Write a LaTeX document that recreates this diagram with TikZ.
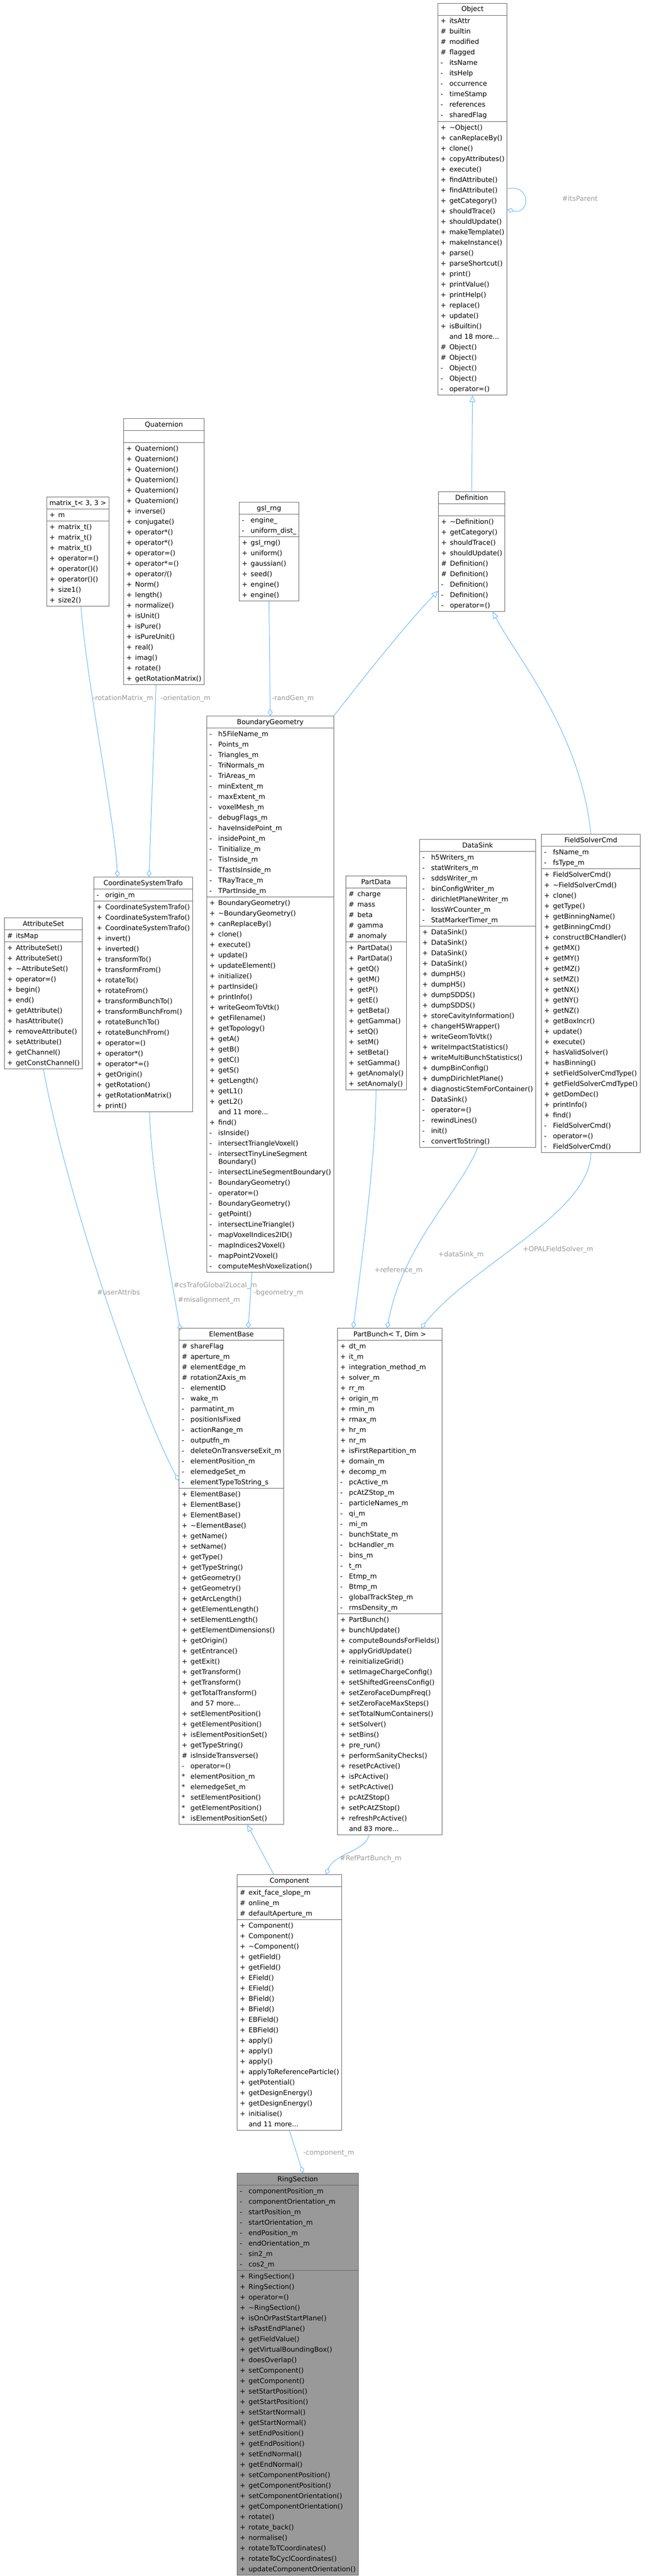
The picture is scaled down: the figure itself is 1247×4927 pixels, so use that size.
\documentclass[tikz,border=0pt]{standalone}
\usepackage{fontspec}
\setmainfont{DejaVu Sans}
\usetikzlibrary{arrows.meta,positioning,shapes.multipart}
\definecolor{edgeblue}{HTML}{63B8FF}
\definecolor{lblgray}{HTML}{9A9A9A}
\definecolor{boxline}{HTML}{666666}
\definecolor{hlfill}{HTML}{999999}
\newcommand{\clsfont}{\fontsize{13}{20}\selectfont}
\newcommand{\mbr}[2]{\makebox[17pt][l]{#1}#2}
\newcommand{\mlist}[1]{\begin{tabular}{@{}l@{}}#1\end{tabular}}

\begin{document}
\begin{tikzpicture}[x=1pt, y=-1pt,
    cls/.style={rectangle split, rectangle split parts=3,
      rectangle split part align={center,left,left},
      draw=boxline, line width=1pt, fill=white, inner xsep=5pt, inner ysep=1pt,
      anchor=north west, font=\clsfont},
    ringcls/.style={cls, fill=hlfill},
    aggr/.style={draw=edgeblue, line width=1pt, {Diamond[open, length=13pt, width=9pt]}-},
    inherit/.style={draw=edgeblue, line width=1pt, -{Triangle[open, length=13pt, width=11pt]}},
    elabel/.style={text=lblgray, font=\clsfont, inner sep=0pt, anchor=west}
  ]
  \fill[white] (0,0) rectangle (1247,4927);
  \useasboundingbox (0,0) rectangle (1247,4927);

  % Object and Definition
  \node[cls] (obj) at (837,6) {\strut Object
    \nodepart{second}\mlist{\mbr{+}{itsAttr}\\ \mbr{\#}{builtin}\\ \mbr{\#}{modified}\\ \mbr{\#}{flagged}\\
      \mbr{-}{itsName}\\ \mbr{-}{itsHelp}\\ \mbr{-}{occurrence}\\ \mbr{-}{timeStamp}\\ \mbr{-}{references}\\ \mbr{-}{sharedFlag}}
    \nodepart{third}\mlist{\mbr{+}{\textasciitilde Object()}\\ \mbr{+}{canReplaceBy()}\\ \mbr{+}{clone()}\\ \mbr{+}{copyAttributes()}\\
      \mbr{+}{execute()}\\ \mbr{+}{findAttribute()}\\ \mbr{+}{findAttribute()}\\ \mbr{+}{getCategory()}\\ \mbr{+}{shouldTrace()}\\
      \mbr{+}{shouldUpdate()}\\ \mbr{+}{makeTemplate()}\\ \mbr{+}{makeInstance()}\\ \mbr{+}{parse()}\\ \mbr{+}{parseShortcut()}\\
      \mbr{+}{print()}\\ \mbr{+}{printValue()}\\ \mbr{+}{printHelp()}\\ \mbr{+}{replace()}\\ \mbr{+}{update()}\\ \mbr{+}{isBuiltin()}\\
      \mbr{}{and 18 more...}\\ \mbr{\#}{Object()}\\ \mbr{\#}{Object()}\\ \mbr{-}{Object()}\\ \mbr{-}{Object()}\\ \mbr{-}{operator=()}}};
  \node[cls] (def) at (838,940) {\strut Definition
    \nodepart{second}\mlist{\mbox{}}
    \nodepart{third}\mlist{\mbr{+}{\textasciitilde Definition()}\\ \mbr{+}{getCategory()}\\ \mbr{+}{shouldTrace()}\\ \mbr{+}{shouldUpdate()}\\
      \mbr{\#}{Definition()}\\ \mbr{\#}{Definition()}\\ \mbr{-}{Definition()}\\ \mbr{-}{Definition()}\\ \mbr{-}{operator=()}}};

  % helpers
  \node[cls] (quat) at (236,800) {\strut Quaternion
    \nodepart{second}\mlist{\mbox{}}
    \nodepart{third}\mlist{\mbr{+}{Quaternion()}\\ \mbr{+}{Quaternion()}\\ \mbr{+}{Quaternion()}\\ \mbr{+}{Quaternion()}\\
      \mbr{+}{Quaternion()}\\ \mbr{+}{Quaternion()}\\ \mbr{+}{inverse()}\\ \mbr{+}{conjugate()}\\ \mbr{+}{operator*()}\\
      \mbr{+}{operator*()}\\ \mbr{+}{operator=()}\\ \mbr{+}{operator*=()}\\ \mbr{+}{operator/()}\\ \mbr{+}{Norm()}\\
      \mbr{+}{length()}\\ \mbr{+}{normalize()}\\ \mbr{+}{isUnit()}\\ \mbr{+}{isPure()}\\ \mbr{+}{isPureUnit()}\\
      \mbr{+}{real()}\\ \mbr{+}{imag()}\\ \mbr{+}{rotate()}\\ \mbr{+}{getRotationMatrix()}}};
  \node[cls] (mtx) at (89,950) {\strut matrix\_t< 3, 3 >
    \nodepart{second}\mlist{\mbr{+}{m}}
    \nodepart{third}\mlist{\mbr{+}{matrix\_t()}\\ \mbr{+}{matrix\_t()}\\ \mbr{+}{matrix\_t()}\\ \mbr{+}{operator=()}\\
      \mbr{+}{operator()()}\\ \mbr{+}{operator()()}\\ \mbr{+}{size1()}\\ \mbr{+}{size2()}}};
  \node[cls] (rng) at (457,960) {\strut gsl\_rng
    \nodepart{second}\mlist{\mbr{-}{engine\_}\\ \mbr{-}{uniform\_dist\_}}
    \nodepart{third}\mlist{\mbr{+}{gsl\_rng()}\\ \mbr{+}{uniform()}\\ \mbr{+}{gaussian()}\\ \mbr{+}{seed()}\\
      \mbr{+}{engine()}\\ \mbr{+}{engine()}}};

  % BoundaryGeometry
  \node[cls] (bg) at (395,1369) {\strut BoundaryGeometry
    \nodepart{second}\mlist{\mbr{-}{h5FileName\_m}\\ \mbr{-}{Points\_m}\\ \mbr{-}{Triangles\_m}\\ \mbr{-}{TriNormals\_m}\\
      \mbr{-}{TriAreas\_m}\\ \mbr{-}{minExtent\_m}\\ \mbr{-}{maxExtent\_m}\\ \mbr{-}{voxelMesh\_m}\\ \mbr{-}{debugFlags\_m}\\
      \mbr{-}{haveInsidePoint\_m}\\ \mbr{-}{insidePoint\_m}\\ \mbr{-}{Tinitialize\_m}\\ \mbr{-}{TisInside\_m}\\
      \mbr{-}{TfastIsInside\_m}\\ \mbr{-}{TRayTrace\_m}\\ \mbr{-}{TPartInside\_m}}
    \nodepart{third}\mlist{\mbr{+}{BoundaryGeometry()}\\ \mbr{+}{\textasciitilde BoundaryGeometry()}\\ \mbr{+}{canReplaceBy()}\\
      \mbr{+}{clone()}\\ \mbr{+}{execute()}\\ \mbr{+}{update()}\\ \mbr{+}{updateElement()}\\ \mbr{+}{initialize()}\\
      \mbr{+}{partInside()}\\ \mbr{+}{printInfo()}\\ \mbr{+}{writeGeomToVtk()}\\ \mbr{+}{getFilename()}\\ \mbr{+}{getTopology()}\\
      \mbr{+}{getA()}\\ \mbr{+}{getB()}\\ \mbr{+}{getC()}\\ \mbr{+}{getS()}\\ \mbr{+}{getLength()}\\ \mbr{+}{getL1()}\\
      \mbr{+}{getL2()}\\ \mbr{}{and 11 more...}\\ \mbr{+}{find()}\\ \mbr{-}{isInside()}\\ \mbr{-}{intersectTriangleVoxel()}\\
      \mbr{-}{intersectTinyLineSegment}\\[-5pt] \mbr{}{Boundary()}\\ \mbr{-}{intersectLineSegmentBoundary()}\\
      \mbr{-}{BoundaryGeometry()}\\ \mbr{-}{operator=()}\\ \mbr{-}{BoundaryGeometry()}\\ \mbr{-}{getPoint()}\\
      \mbr{-}{intersectLineTriangle()}\\ \mbr{-}{mapVoxelIndices2ID()}\\ \mbr{-}{mapIndices2Voxel()}\\
      \mbr{-}{mapPoint2Voxel()}\\ \mbr{-}{computeMeshVoxelization()}}};

  % second row of classes
  \node[cls] (attr) at (8,1755) {\strut AttributeSet
    \nodepart{second}\mlist{\mbr{\#}{itsMap}}
    \nodepart{third}\mlist{\mbr{+}{AttributeSet()}\\ \mbr{+}{AttributeSet()}\\ \mbr{+}{\textasciitilde AttributeSet()}\\
      \mbr{+}{operator=()}\\ \mbr{+}{begin()}\\ \mbr{+}{end()}\\ \mbr{+}{getAttribute()}\\ \mbr{+}{hasAttribute()}\\
      \mbr{+}{removeAttribute()}\\ \mbr{+}{setAttribute()}\\ \mbr{+}{getChannel()}\\ \mbr{+}{getConstChannel()}}};
  \node[cls] (cst) at (179,1677) {\strut CoordinateSystemTrafo
    \nodepart{second}\mlist{\mbr{-}{origin\_m}}
    \nodepart{third}\mlist{\mbr{+}{CoordinateSystemTrafo()}\\ \mbr{+}{CoordinateSystemTrafo()}\\ \mbr{+}{CoordinateSystemTrafo()}\\
      \mbr{+}{invert()}\\ \mbr{+}{inverted()}\\ \mbr{+}{transformTo()}\\ \mbr{+}{transformFrom()}\\ \mbr{+}{rotateTo()}\\
      \mbr{+}{rotateFrom()}\\ \mbr{+}{transformBunchTo()}\\ \mbr{+}{transformBunchFrom()}\\ \mbr{+}{rotateBunchTo()}\\
      \mbr{+}{rotateBunchFrom()}\\ \mbr{+}{operator=()}\\ \mbr{+}{operator*()}\\ \mbr{+}{operator*=()}\\ \mbr{+}{getOrigin()}\\
      \mbr{+}{getRotation()}\\ \mbr{+}{getRotationMatrix()}\\ \mbr{+}{print()}}};
  \node[cls] (pdata) at (661,1675) {\strut PartData
    \nodepart{second}\mlist{\mbr{\#}{charge}\\ \mbr{\#}{mass}\\ \mbr{\#}{beta}\\ \mbr{\#}{gamma}\\ \mbr{\#}{anomaly}}
    \nodepart{third}\mlist{\mbr{+}{PartData()}\\ \mbr{+}{PartData()}\\ \mbr{+}{getQ()}\\ \mbr{+}{getM()}\\ \mbr{+}{getP()}\\
      \mbr{+}{getE()}\\ \mbr{+}{getBeta()}\\ \mbr{+}{getGamma()}\\ \mbr{+}{setQ()}\\ \mbr{+}{setM()}\\ \mbr{+}{setBeta()}\\
      \mbr{+}{setGamma()}\\ \mbr{+}{getAnomaly()}\\ \mbr{+}{setAnomaly()}}};
  \node[cls] (sink) at (802,1605) {\strut DataSink
    \nodepart{second}\mlist{\mbr{-}{h5Writers\_m}\\ \mbr{-}{statWriters\_m}\\ \mbr{-}{sddsWriter\_m}\\ \mbr{-}{binConfigWriter\_m}\\
      \mbr{-}{dirichletPlaneWriter\_m}\\ \mbr{-}{lossWrCounter\_m}\\ \mbr{-}{StatMarkerTimer\_m}}
    \nodepart{third}\mlist{\mbr{+}{DataSink()}\\ \mbr{+}{DataSink()}\\ \mbr{+}{DataSink()}\\ \mbr{+}{DataSink()}\\
      \mbr{+}{dumpH5()}\\ \mbr{+}{dumpH5()}\\ \mbr{+}{dumpSDDS()}\\ \mbr{+}{dumpSDDS()}\\ \mbr{+}{storeCavityInformation()}\\
      \mbr{+}{changeH5Wrapper()}\\ \mbr{+}{writeGeomToVtk()}\\ \mbr{+}{writeImpactStatistics()}\\
      \mbr{+}{writeMultiBunchStatistics()}\\ \mbr{+}{dumpBinConfig()}\\
      \mbr{+}{dumpDirichletPlane()}\\ \mbr{+}{diagnosticStemForContainer()}\\ \mbr{-}{DataSink()}\\ \mbr{-}{operator=()}\\
      \mbr{-}{rewindLines()}\\ \mbr{-}{init()}\\ \mbr{-}{convertToString()}}};
  \node[cls] (fsc) at (1035,1595) {\strut FieldSolverCmd
    \nodepart{second}\mlist{\mbr{-}{fsName\_m}\\ \mbr{-}{fsType\_m}}
    \nodepart{third}\mlist{\mbr{+}{FieldSolverCmd()}\\ \mbr{+}{\textasciitilde FieldSolverCmd()}\\ \mbr{+}{clone()}\\
      \mbr{+}{getType()}\\ \mbr{+}{getBinningName()}\\ \mbr{+}{getBinningCmd()}\\ \mbr{+}{constructBCHandler()}\\
      \mbr{+}{getMX()}\\ \mbr{+}{getMY()}\\ \mbr{+}{getMZ()}\\ \mbr{+}{setMZ()}\\ \mbr{+}{getNX()}\\ \mbr{+}{getNY()}\\
      \mbr{+}{getNZ()}\\ \mbr{+}{getBoxIncr()}\\ \mbr{+}{update()}\\ \mbr{+}{execute()}\\ \mbr{+}{hasValidSolver()}\\
      \mbr{+}{hasBinning()}\\ \mbr{+}{setFieldSolverCmdType()}\\ \mbr{+}{getFieldSolverCmdType()}\\ \mbr{+}{getDomDec()}\\
      \mbr{+}{printInfo()}\\ \mbr{+}{find()}\\ \mbr{-}{FieldSolverCmd()}\\ \mbr{-}{operator=()}\\ \mbr{-}{FieldSolverCmd()}}};

  % ElementBase and PartBunch
  \node[cls] (eb) at (342,2540) {\strut ElementBase
    \nodepart{second}\mlist{\mbr{\#}{shareFlag}\\ \mbr{\#}{aperture\_m}\\ \mbr{\#}{elementEdge\_m}\\ \mbr{\#}{rotationZAxis\_m}\\
      \mbr{-}{elementID}\\ \mbr{-}{wake\_m}\\ \mbr{-}{parmatint\_m}\\ \mbr{-}{positionIsFixed}\\ \mbr{-}{actionRange\_m}\\
      \mbr{-}{outputfn\_m}\\ \mbr{-}{deleteOnTransverseExit\_m}\\ \mbr{-}{elementPosition\_m}\\ \mbr{-}{elemedgeSet\_m}\\
      \mbr{-}{elementTypeToString\_s}}
    \nodepart{third}\mlist{\mbr{+}{ElementBase()}\\ \mbr{+}{ElementBase()}\\ \mbr{+}{ElementBase()}\\ \mbr{+}{\textasciitilde ElementBase()}\\
      \mbr{+}{getName()}\\ \mbr{+}{setName()}\\ \mbr{+}{getType()}\\ \mbr{+}{getTypeString()}\\ \mbr{+}{getGeometry()}\\
      \mbr{+}{getGeometry()}\\ \mbr{+}{getArcLength()}\\ \mbr{+}{getElementLength()}\\ \mbr{+}{setElementLength()}\\
      \mbr{+}{getElementDimensions()}\\ \mbr{+}{getOrigin()}\\ \mbr{+}{getEntrance()}\\ \mbr{+}{getExit()}\\
      \mbr{+}{getTransform()}\\ \mbr{+}{getTransform()}\\ \mbr{+}{getTotalTransform()}\\ \mbr{}{and 57 more...}\\
      \mbr{+}{setElementPosition()}\\ \mbr{+}{getElementPosition()}\\ \mbr{+}{isElementPositionSet()}\\
      \mbr{+}{getTypeString()}\\ \mbr{\#}{isInsideTransverse()}\\ \mbr{-}{operator=()}\\ \mbr{*}{elementPosition\_m}\\
      \mbr{*}{elemedgeSet\_m}\\ \mbr{*}{setElementPosition()}\\ \mbr{*}{getElementPosition()}\\ \mbr{*}{isElementPositionSet()}}};
  \node[cls] (bunch) at (645,2540) {\strut PartBunch< T, Dim >
    \nodepart{second}\mlist{\mbr{+}{dt\_m}\\ \mbr{+}{it\_m}\\ \mbr{+}{integration\_method\_m}\\ \mbr{+}{solver\_m}\\
      \mbr{+}{rr\_m}\\ \mbr{+}{origin\_m}\\ \mbr{+}{rmin\_m}\\ \mbr{+}{rmax\_m}\\ \mbr{+}{hr\_m}\\
      \mbr{+}{nr\_m}\\ \mbr{+}{isFirstRepartition\_m}\\ \mbr{+}{domain\_m}\\ \mbr{+}{decomp\_m}\\ \mbr{-}{pcActive\_m}\\
      \mbr{-}{pcAtZStop\_m}\\ \mbr{-}{particleNames\_m}\\ \mbr{-}{qi\_m}\\ \mbr{-}{mi\_m}\\ \mbr{-}{bunchState\_m}\\
      \mbr{-}{bcHandler\_m}\\ \mbr{-}{bins\_m}\\ \mbr{-}{t\_m}\\ \mbr{-}{Etmp\_m}\\ \mbr{-}{Btmp\_m}\\
      \mbr{-}{globalTrackStep\_m}\\ \mbr{-}{rmsDensity\_m}}
    \nodepart{third}\mlist{\mbr{+}{PartBunch()}\\ \mbr{+}{bunchUpdate()}\\ \mbr{+}{computeBoundsForFields()}\\
      \mbr{+}{applyGridUpdate()}\\ \mbr{+}{reinitializeGrid()}\\ \mbr{+}{setImageChargeConfig()}\\
      \mbr{+}{setShiftedGreensConfig()}\\ \mbr{+}{setZeroFaceDumpFreq()}\\ \mbr{+}{setZeroFaceMaxSteps()}\\
      \mbr{+}{setTotalNumContainers()}\\ \mbr{+}{setSolver()}\\ \mbr{+}{setBins()}\\ \mbr{+}{pre\_run()}\\
      \mbr{+}{performSanityChecks()}\\ \mbr{+}{resetPcActive()}\\ \mbr{+}{isPcActive()}\\ \mbr{+}{setPcActive()}\\
      \mbr{+}{pcAtZStop()}\\ \mbr{+}{setPcAtZStop()}\\ \mbr{+}{refreshPcActive()}\\ \mbr{}{and 83 more...}}};

  % Component and RingSection
  \node[cls] (comp) at (453,3585) {\strut Component
    \nodepart{second}\mlist{\mbr{\#}{exit\_face\_slope\_m}\\ \mbr{\#}{online\_m}\\ \mbr{\#}{defaultAperture\_m}}
    \nodepart{third}\mlist{\mbr{+}{Component()}\\ \mbr{+}{Component()}\\ \mbr{+}{\textasciitilde Component()}\\ \mbr{+}{getField()}\\
      \mbr{+}{getField()}\\ \mbr{+}{EField()}\\ \mbr{+}{EField()}\\ \mbr{+}{BField()}\\ \mbr{+}{BField()}\\ \mbr{+}{EBField()}\\
      \mbr{+}{EBField()}\\ \mbr{+}{apply()}\\ \mbr{+}{apply()}\\ \mbr{+}{apply()}\\ \mbr{+}{applyToReferenceParticle()}\\
      \mbr{+}{getPotential()}\\ \mbr{+}{getDesignEnergy()}\\ \mbr{+}{getDesignEnergy()}\\ \mbr{+}{initialise()}\\
      \mbr{}{and 11 more...}}};
  \node[ringcls] (ring) at (453,4156) {\strut RingSection
    \nodepart{second}\mlist{\mbr{-}{componentPosition\_m}\\ \mbr{-}{componentOrientation\_m}\\ \mbr{-}{startPosition\_m}\\
      \mbr{-}{startOrientation\_m}\\ \mbr{-}{endPosition\_m}\\ \mbr{-}{endOrientation\_m}\\ \mbr{-}{sin2\_m}\\ \mbr{-}{cos2\_m}}
    \nodepart{third}\mlist{\mbr{+}{RingSection()}\\ \mbr{+}{RingSection()}\\ \mbr{+}{operator=()}\\ \mbr{+}{\textasciitilde RingSection()}\\
      \mbr{+}{isOnOrPastStartPlane()}\\ \mbr{+}{isPastEndPlane()}\\ \mbr{+}{getFieldValue()}\\ \mbr{+}{getVirtualBoundingBox()}\\
      \mbr{+}{doesOverlap()}\\ \mbr{+}{setComponent()}\\ \mbr{+}{getComponent()}\\ \mbr{+}{setStartPosition()}\\
      \mbr{+}{getStartPosition()}\\ \mbr{+}{setStartNormal()}\\ \mbr{+}{getStartNormal()}\\ \mbr{+}{setEndPosition()}\\
      \mbr{+}{getEndPosition()}\\ \mbr{+}{setEndNormal()}\\ \mbr{+}{getEndNormal()}\\ \mbr{+}{setComponentPosition()}\\
      \mbr{+}{getComponentPosition()}\\ \mbr{+}{setComponentOrientation()}\\ \mbr{+}{getComponentOrientation()}\\
      \mbr{+}{rotate()}\\ \mbr{+}{rotate\_back()}\\ \mbr{+}{normalise()}\\ \mbr{+}{rotateToTCoordinates()}\\
      \mbr{+}{rotateToCyclCoordinates()}\\ \mbr{+}{updateComponentOrientation()}}};

  % Connections
  \draw[aggr] ([yshift=-20pt]obj.east) .. controls +(45,10) and +(45,-10) .. ([yshift=20pt]obj.east);
  \node[elabel] (lparent) at (1075,380) {\#itsParent};
  \draw[inherit] (def.north) -- (obj.south);
  \draw[inherit] (bg.north east) .. controls (700,1290) and (780,1190) .. ([yshift=40pt]def.south west);
  \draw[inherit] (fsc.north) .. controls (1110,1400) and (990,1260) .. ([xshift=40pt]def.south);

  \draw[aggr] ([xshift=-49pt]cst.north) .. controls (218,1560) and (165,1300) .. ([xshift=6pt]mtx.south);
  \node[elabel] (lrot) at (177,1336) {-rotationMatrix\_m};
  \draw[aggr] ([xshift=11pt]cst.north) -- ([xshift=-15pt]quat.south);
  \node[elabel] (lori) at (307,1336) {-orientation\_m};
  \draw[aggr] (bg.north) -- (rng.south);
  \node[elabel] (lrand) at (520,1336) {-randGen\_m};

  \draw[aggr] ([xshift=3pt,yshift=-5pt]eb.north west) .. controls (320,2400) and (290,2250) .. ([xshift=12pt]cst.south);
  \node[elabel] (lcs) at (332,2459) {\#csTrafoGlobal2Local\_m};
  \node[elabel] (lmis) at (340,2487) {\#misalignment\_m};
  \draw[aggr] ([yshift=-292pt]eb.north west) .. controls (270,2700) and (130,2300) .. (attr.south);
  \node[elabel, anchor=east] (luser) at (268,2472) {\#userAttribs};
  \draw[aggr] ([xshift=32pt]eb.north) -- ([xshift=-35pt]bg.south);
  \node[elabel] (lbgeo) at (485,2473) {-bgeometry\_m};

  \draw[aggr] ([xshift=-70pt]bunch.north) .. controls (700,2350) and (718,2200) .. (pdata.south);
  \node[elabel] (lref) at (716,2430) {+reference\_m};
  \draw[aggr] ([xshift=-5pt]bunch.north) .. controls (770,2380) and (880,2280) .. (sink.south);
  \node[elabel] (lsink) at (838,2400) {+dataSink\_m};
  \draw[aggr] ([xshift=60pt]bunch.north) .. controls (900,2420) and (1130,2320) .. (fsc.south);
  \node[elabel] (lfs) at (1000,2390) {+OPALFieldSolver\_m};

  \draw[inherit] ([xshift=-30pt]comp.north) -- ([xshift=30pt]eb.south);
  \draw[aggr] ([xshift=70pt]comp.north) .. controls (640,3545) and (700,3540) .. ([xshift=-40pt]bunch.south);
  \node[elabel] (lrefpb) at (650,3555) {\#RefPartBunch\_m};
  \draw[aggr] ([xshift=10pt]ring.north) -- ([xshift=0pt]comp.south);
  \node[elabel] (lcomp) at (580,4118) {-component\_m};
\end{tikzpicture}
\end{document}
